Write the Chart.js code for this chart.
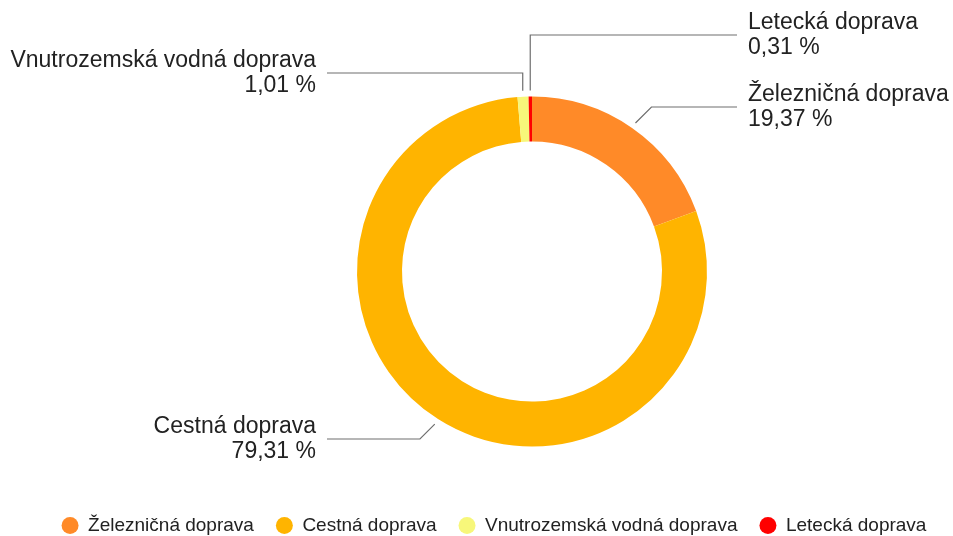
<!DOCTYPE html>
<html>
<head>
<meta charset="utf-8">
<script src="https://cdn.jsdelivr.net/npm/chart.js@4.4.0/dist/chart.umd.min.js"></script>
<style>
  html, body { margin: 0; padding: 0; background: #fff; }
  canvas { display: block; }
</style>
</head>
<body>
<canvas id="myChart" width="953" height="536"></canvas>
<script>
// podiel druhov dopravy (%)
const categories = ['Železničná doprava', 'Cestná doprava', 'Vnutrozemská vodná doprava', 'Letecká doprava'];
const shares = [19.37, 79.31, 1.01, 0.31];
const sliceColors = ['#FF8A28', '#FFB400', '#F7F77A', '#FF0000'];

// where each callout's horizontal line sits, which way it bends, which side it goes
const calloutY = [107, 439, 73, 35];
const calloutBend = ['diag', 'diag', 'vert', 'vert'];
const calloutSide = [1, -1, -1, 1];

const FONT = '"Liberation Sans", Arial, sans-serif';
const fmtPct = v => v.toFixed(2).replace('.', ',') + ' %';

const calloutPlugin = {
  id: 'callouts',
  afterDatasetsDraw(chart) {
    const ctx = chart.ctx;
    const meta = chart.getDatasetMeta(0);
    ctx.save();
    ctx.font = '23px ' + FONT;
    ctx.textBaseline = 'middle';
    meta.data.forEach((arc, i) => {
      const p = arc.getProps(['x', 'y', 'startAngle', 'endAngle', 'outerRadius'], true);
      const mid = (p.startAngle + p.endAngle) / 2;
      const sx = p.x + Math.cos(mid) * (p.outerRadius + 6);
      const sy = p.y + Math.sin(mid) * (p.outerRadius + 6);
      const side = calloutSide[i];
      const ly = calloutY[i];
      const ex = calloutBend[i] === 'vert' ? sx : sx + side * Math.abs(ly - sy);
      const endX = p.x + side * 205;
      const textX = p.x + side * 216;

      ctx.strokeStyle = '#6e6e6e';
      ctx.lineWidth = 1.2;
      ctx.beginPath();
      ctx.moveTo(sx, sy);
      ctx.lineTo(ex, ly);
      ctx.lineTo(endX, ly);
      ctx.stroke();

      ctx.fillStyle = '#222';
      ctx.textAlign = side > 0 ? 'left' : 'right';
      ctx.fillText(categories[i], textX, ly - 12);
      ctx.fillText(fmtPct(shares[i]), textX, ly + 13);
    });
    ctx.restore();
  }
};

new Chart(document.getElementById('myChart'), {
  type: 'doughnut',
  data: {
    labels: categories,
    datasets: [{
      data: shares,
      backgroundColor: sliceColors,
      borderWidth: 0,
      radius: 175,
      cutout: '74.3%'
    }]
  },
  options: {
    responsive: false,
    animation: false,
    layout: { padding: { left: 35, right: 0, top: 49, bottom: -9 } },
    plugins: {
      tooltip: { enabled: false },
      // empty title on the left just pushes the ring to the right
      title: {
        display: true,
        text: ' ',
        position: 'left',
        fullSize: false,
        font: { size: 1, lineHeight: 1 },
        padding: { top: 38, bottom: 37 }
      },
      legend: {
        position: 'bottom',
        labels: {
          usePointStyle: true,
          pointStyle: 'circle',
          boxWidth: 17,
          boxHeight: 12,
          padding: 22,
          color: '#222',
          font: { family: FONT, size: 19 }
        }
      }
    }
  },
  plugins: [calloutPlugin]
});
</script>
</body>
</html>
